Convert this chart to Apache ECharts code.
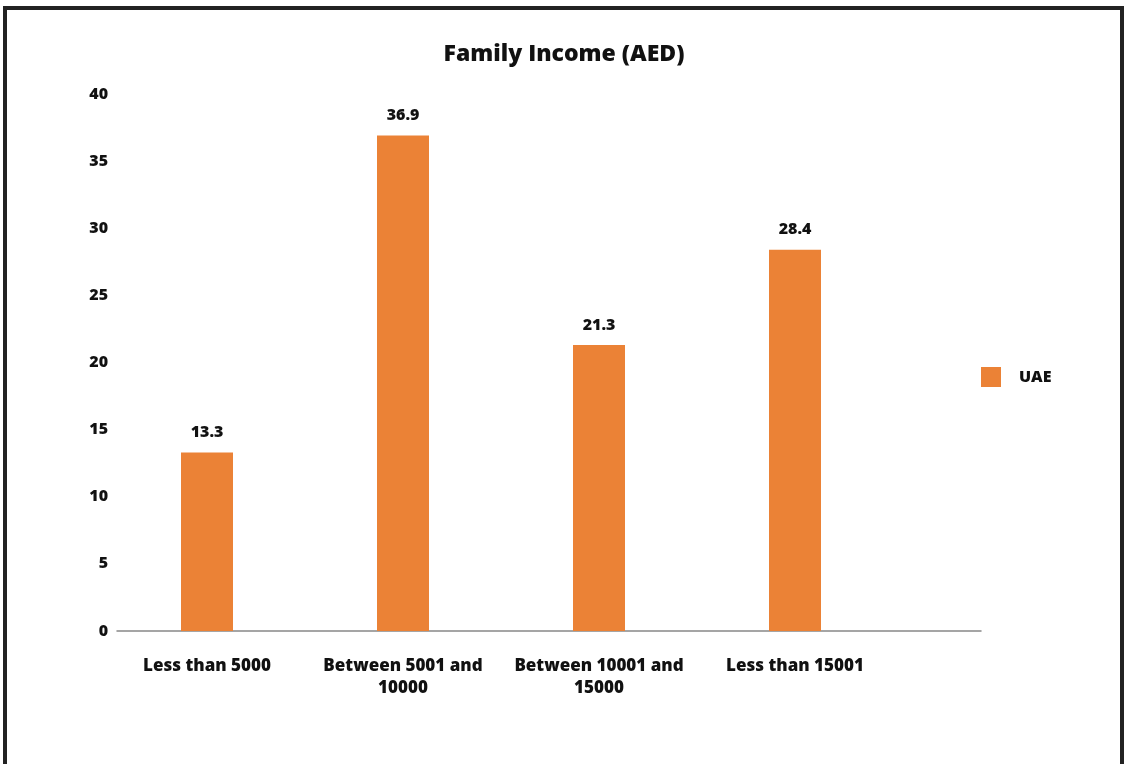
<!DOCTYPE html>
<html>
<head>
<meta charset="utf-8">
<title>Family Income (AED)</title>
<script src="https://cdn.jsdelivr.net/npm/echarts@6/dist/echarts.min.js"></script>
<style>
  html, body { margin: 0; padding: 0; background: #fff; }
  #frame {
    position: absolute; left: 3px; top: 6px; width: 1113px; height: 800px;
    border: 4px solid #222; border-bottom: none; box-sizing: content-box;
  }
  #chart { position: absolute; left: 0; top: 0; width: 1128px; height: 764px; }
</style>
</head>
<body>
<div id="frame"></div>
<div id="chart"></div>
<script>
// Share of families by monthly income band (AED)
const categories = ['Less than 5000', 'Between 5001 and\n10000', 'Between 10001 and\n15000', 'Less than 15001'];
const uaeValues = [13.3, 36.9, 21.3, 28.4];
const yTicks = { min: 0, max: 40, interval: 5 };

const FONT = '"Open Sans"';
const WEIGHT = 800;
const chart = echarts.init(document.getElementById('chart'), null, { renderer: 'canvas' });

chart.setOption({
  animation: false,
  backgroundColor: 'transparent',
  textStyle: { fontFamily: FONT },
  title: {
    text: 'Family Income (AED)',
    left: 'center',
    top: 38,
    textStyle: { fontFamily: FONT, fontWeight: WEIGHT, fontSize: 23, color: '#111' }
  },
  legend: {
    data: ['UAE'],
    orient: 'vertical',
    left: 976,
    top: 362,
    itemWidth: 20,
    itemHeight: 20,
    itemGap: 10,
    icon: 'rect',
    textStyle: { fontFamily: FONT, fontWeight: WEIGHT, fontSize: 16, color: '#111', padding: [0, 0, 0, 13] }
  },
  grid: [
    // plotting area for the bars
    { left: 109, right: 235, top: 94, bottom: 133, containLabel: false },
    // baseline that runs under the legend column
    { left: 117, right: 147, top: 94, bottom: 133, containLabel: false }
  ],
  xAxis: [
    {
      type: 'category',
      gridIndex: 0,
      data: categories,
      axisLine: { show: false },
      axisTick: { show: false },
      axisLabel: {
        fontFamily: FONT, fontWeight: WEIGHT, fontSize: 17, color: '#111',
        margin: 24, lineHeight: 22, interval: 0
      }
    },
    {
      type: 'value',
      gridIndex: 1,
      min: 0, max: 1,
      axisLine: { show: true, lineStyle: { color: '#888', width: 1.5 } },
      axisTick: { show: false },
      axisLabel: { show: false },
      splitLine: { show: false }
    }
  ],
  yAxis: [
    {
      type: 'value',
      gridIndex: 0,
      min: yTicks.min, max: yTicks.max, interval: yTicks.interval,
      axisLine: { show: false },
      axisTick: { show: false },
      splitLine: { show: false },
      axisLabel: { fontFamily: FONT, fontWeight: WEIGHT, fontSize: 16, color: '#111', margin: 1 }
    },
    {
      type: 'value',
      gridIndex: 1,
      min: 0, max: 1,
      show: false
    }
  ],
  series: [
    {
      name: 'UAE',
      type: 'bar',
      xAxisIndex: 0,
      yAxisIndex: 0,
      data: uaeValues,
      barWidth: 52,
      itemStyle: { color: '#EB8236' },
      label: {
        show: true,
        position: 'top',
        distance: 12,
        fontFamily: FONT, fontWeight: WEIGHT, fontSize: 16, color: '#111',
        formatter: p => p.value.toFixed(1)
      }
    }
  ]
});
</script>
</body>
</html>
